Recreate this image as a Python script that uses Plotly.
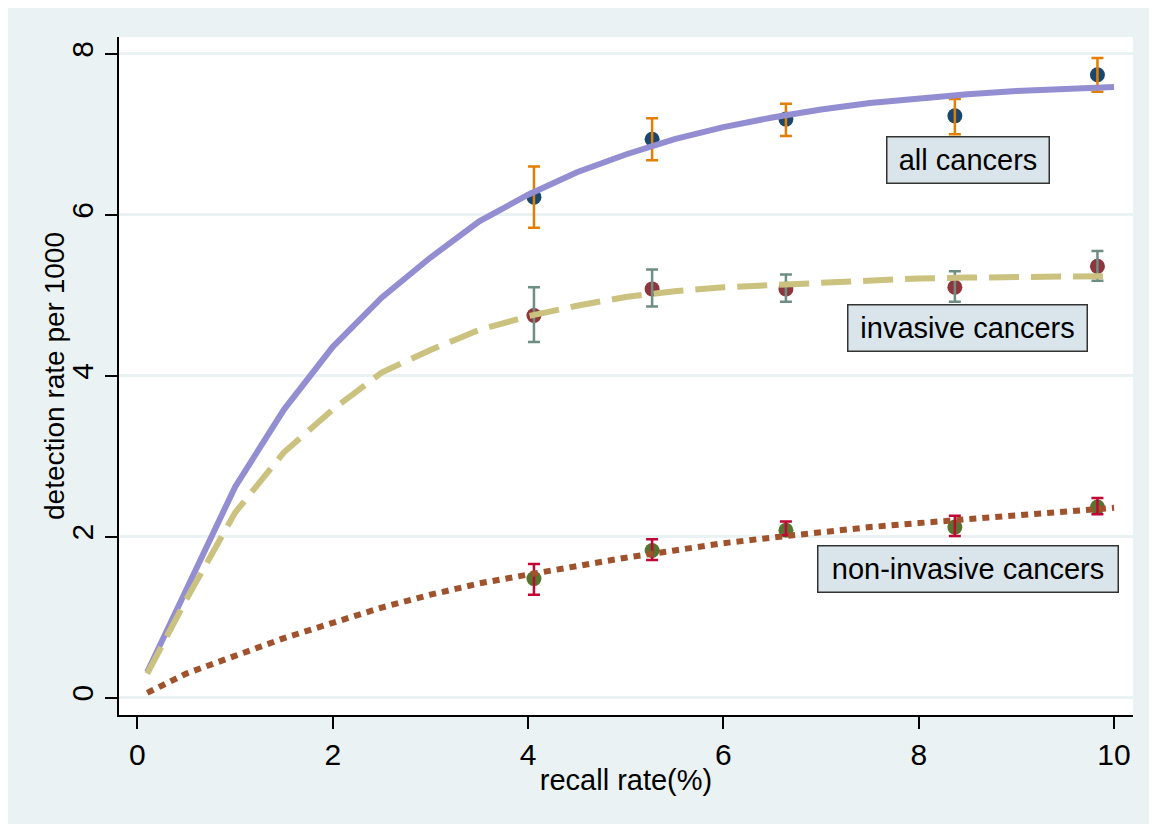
import plotly.graph_objects as go

# ---- observed points ----
recall_pts = [4.06, 5.27, 6.64, 8.37, 9.83]

all_y = [6.22, 6.94, 7.19, 7.23, 7.74]
all_hi = [6.60, 7.20, 7.38, 7.44, 7.95]
all_lo = [5.84, 6.68, 6.98, 7.00, 7.53]

inv_y = [4.75, 5.08, 5.08, 5.10, 5.36]
inv_hi = [5.10, 5.32, 5.26, 5.30, 5.55]
inv_lo = [4.42, 4.86, 4.92, 4.92, 5.18]

non_y = [1.48, 1.83, 2.08, 2.12, 2.37]
non_hi = [1.66, 1.97, 2.19, 2.26, 2.48]
non_lo = [1.28, 1.71, 2.02, 2.01, 2.28]

# ---- fitted curves ----
curve_x = [0.1, 0.5, 1.0, 1.5, 2.0, 2.5, 3.0, 3.5, 4.0, 4.5, 5.0,
           5.5, 6.0, 6.5, 7.0, 7.5, 8.0, 8.5, 9.0, 9.5, 10.0]
all_fit = [0.32, 1.33, 2.62, 3.58, 4.36, 4.97, 5.47, 5.92, 6.25, 6.53, 6.75,
           6.94, 7.09, 7.21, 7.31, 7.39, 7.45, 7.50, 7.54, 7.56, 7.59]
inv_fit = [0.30, 1.22, 2.30, 3.05, 3.58, 4.04, 4.32, 4.57, 4.74, 4.87, 4.98,
           5.05, 5.10, 5.13, 5.16, 5.18, 5.21, 5.22, 5.23, 5.23, 5.24]
non_fit = [0.06, 0.30, 0.52, 0.74, 0.93, 1.12, 1.28, 1.42, 1.53, 1.64, 1.74,
           1.83, 1.92, 1.99, 2.06, 2.12, 2.17, 2.22, 2.27, 2.32, 2.36]

labels = ["all cancers", "invasive cancers", "non-invasive cancers"]
label_x = [8.50, 8.50, 8.50]
label_y = [6.68, 4.60, 1.60]
label_w = [164, 241, 302]

x_ticks = [0, 2, 4, 6, 8, 10]
y_ticks = [0, 2, 4, 6, 8]

FONT = "Liberation Sans, Arial, sans-serif"
BG = "#EAF2F3"

series = [
    (all_y, all_hi, all_lo, all_fit, "#1a476f", "#e37e00", "#938dd2", "solid"),
    (inv_y, inv_hi, inv_lo, inv_fit, "#90353b", "#6e8e84", "#cac27e", "30px,12px"),
    (non_y, non_hi, non_lo, non_fit, "#55752f", "#c10534", "#a0522d", "7px,6px"),
]

fig = go.Figure()
for ys, hi, lo, fit, mcol, ecol, lcol, dash in series:
    fig.add_trace(go.Scatter(x=recall_pts, y=ys, mode="markers",
                             marker=dict(size=15, color=mcol), showlegend=False,
                             hoverinfo="skip"))
    fig.add_trace(go.Scatter(
        x=recall_pts, y=ys, mode="markers",
        marker=dict(size=1, color="rgba(0,0,0,0)"),
        error_y=dict(type="data", symmetric=False,
                     array=[h - v for h, v in zip(hi, ys)],
                     arrayminus=[v - l for l, v in zip(lo, ys)],
                     color=ecol, thickness=2.5, width=6),
        showlegend=False))
for ys, hi, lo, fit, mcol, ecol, lcol, dash in series:
    fig.add_trace(go.Scatter(x=curve_x, y=fit, mode="lines",
                             line=dict(color=lcol, width=6, dash=dash),
                             showlegend=False))

for t, lx, ly, w in zip(labels, label_x, label_y, label_w):
    fig.add_annotation(x=lx, y=ly, xref="x", yref="y", text=t, showarrow=False,
                       font=dict(family=FONT, size=29, color="black"),
                       bgcolor="#d9e5ea", bordercolor="#333333", borderwidth=1.5,
                       borderpad=4, width=w - 11, height=48 - 11,
                       xanchor="center", yanchor="middle")

# y-axis title as annotation for exact placement
fig.add_annotation(x=(54 - 119) / 1014, y=0.5, xref="paper", yref="paper",
                   text="detection rate per 1000", textangle=-90, showarrow=False,
                   font=dict(family=FONT, size=28, color="black"),
                   xanchor="center", yanchor="middle")

fig.update_layout(
    width=1157, height=824,
    margin=dict(l=111, r=32, t=29, b=117),
    paper_bgcolor=BG, plot_bgcolor="white",
    font=dict(family=FONT, size=28, color="black"),
    showlegend=False,
)
fig.update_xaxes(range=[-0.189, 10.194], tickvals=x_ticks, ticks="outside",
                 ticklen=12, tickwidth=1.5, tickcolor="black",
                 showline=True, linecolor="black", linewidth=1.5,
                 showgrid=False, zeroline=False,
                 tickfont=dict(size=30),
                 title=dict(text="recall rate(%)", font=dict(size=29), standoff=0))
fig.update_yaxes(range=[-0.215, 8.21], tickvals=y_ticks, ticks="outside",
                 ticklen=12, tickwidth=1.5, tickcolor="black",
                 showline=True, linecolor="black", linewidth=1.5,
                 showgrid=True, gridcolor=BG, gridwidth=2.5, zeroline=False,
                 tickangle=-90, tickfont=dict(size=30))

fig.write_html("out.html")
